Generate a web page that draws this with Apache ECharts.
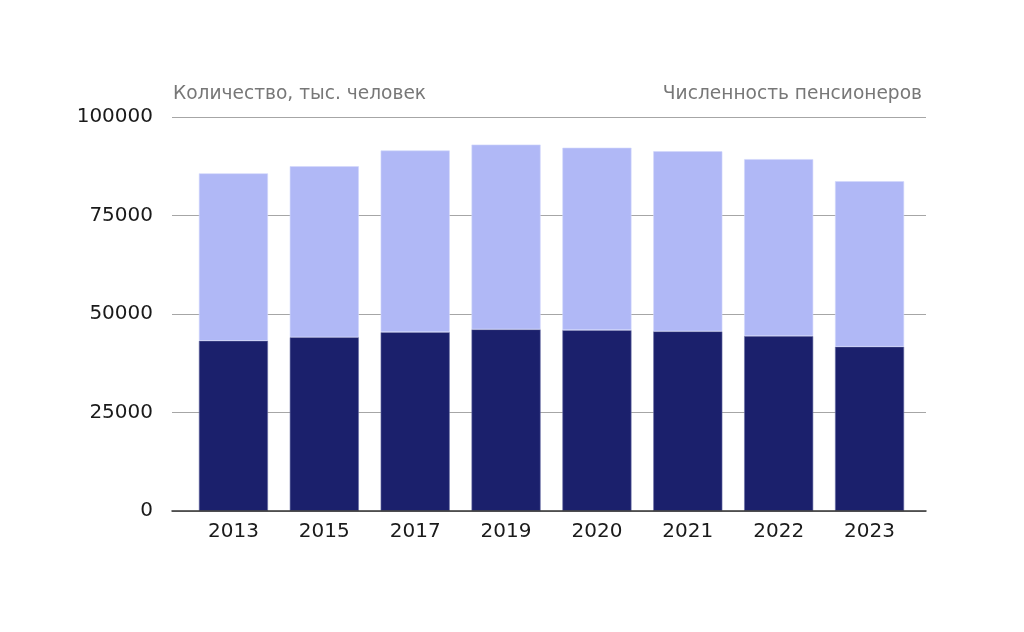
<!DOCTYPE html>
<html>
<head>
<meta charset="utf-8">
<script src="https://cdn.jsdelivr.net/npm/echarts@6/dist/echarts.min.js"></script>
<style>
html,body{margin:0;padding:0;background:#fff;}
#c{width:1024px;height:632px;}
</style>
</head>
<body>
<div id="c"></div>
<script>
var categories = ['2013','2015','2017','2019','2020','2021','2022','2023'];
var lowerValues = [43200, 44100, 45400, 46100, 45900, 45600, 44400, 41700];
var upperValues = [42500, 43400, 46100, 46900, 46300, 45700, 44900, 42000];
var yTicks = [0, 25000, 50000, 75000, 100000];
var leftTitle = 'Количество, тыс. человек';
var rightTitle = 'Численность пенсионеров';

var chart = echarts.init(document.getElementById('c'));
var numFont = 'DejaVu Sans';
chart.setOption({
  animation: false,
  backgroundColor: '#ffffff',
  graphic: [
    {type:'text', left:173, top:85, style:{text:leftTitle, fill:'#777777', font:'18.6px "DejaVu Sans"'}},
    {type:'text', right:102, top:85, style:{text:rightTitle, fill:'#777777', font:'18.6px "DejaVu Sans"'}}
  ],
  grid: [
    {left:172, right:98, top:117, bottom:121},
    {left:188, right:109, top:117, bottom:121}
  ],
  xAxis: [
    {gridIndex:0, type:'category', data:[''], axisLabel:{show:false}, axisTick:{show:false},
     axisLine:{show:true, lineStyle:{color:'#333333', width:1.5}}, z:10},
    {gridIndex:1, type:'category', data:categories, axisTick:{show:false}, axisLine:{show:false},
     axisLabel:{color:'#1a1a1a', fontFamily:numFont, fontSize:20, margin:11}}
  ],
  yAxis: [
    {gridIndex:0, type:'value', min:0, max:100000, interval:25000,
     axisLine:{show:false}, axisTick:{show:false},
     axisLabel:{color:'#1a1a1a', fontFamily:numFont, fontSize:20, margin:19,
       formatter:function(v){return yTicks.indexOf(v) >= 0 ? String(v) : '';}},
     splitLine:{lineStyle:{color:'#a6a6a6', width:1.2}}},
    {gridIndex:1, type:'value', min:0, max:100000, interval:25000, show:false, splitLine:{show:false}}
  ],
  series: [
    {type:'bar', xAxisIndex:1, yAxisIndex:1, stack:'p', data:lowerValues, barCategoryGap:'24%',
     itemStyle:{color:'#1b206c', borderColor:'#6a6fa6', borderWidth:0.6}, z:3},
    {type:'bar', xAxisIndex:1, yAxisIndex:1, stack:'p', data:upperValues, barCategoryGap:'24%',
     itemStyle:{color:'#b0b8f6', borderColor:'#d2d6fb', borderWidth:0.6}, z:3}
  ]
});
</script>
</body>
</html>
